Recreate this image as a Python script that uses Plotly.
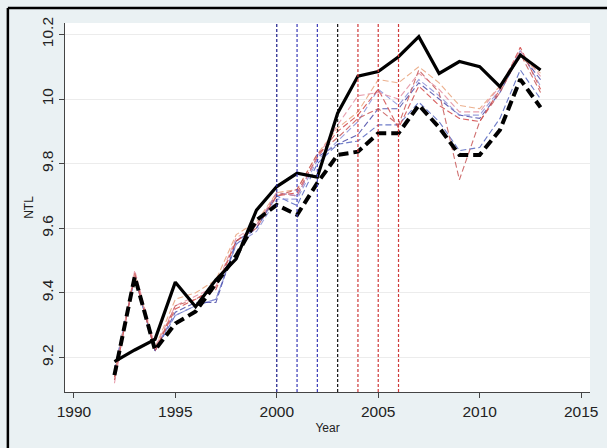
import plotly.graph_objects as go

# Years covered by the night-time-lights series
years = list(range(1992, 2014))

# Treated unit (solid black) and its synthetic counterpart (thick dashed black)
ntl_actual = [9.187, 9.223, 9.256, 9.433, 9.357, 9.440, 9.505, 9.656, 9.729, 9.770, 9.758,
              9.956, 10.071, 10.085, 10.131, 10.193, 10.079, 10.116, 10.100, 10.038, 10.136, 10.090]
ntl_synth = [9.145, 9.450, 9.223, 9.305, 9.342, 9.430, 9.515, 9.625, 9.672, 9.641, 9.740,
             9.827, 9.837, 9.894, 9.894, 9.981, 9.912, 9.827, 9.827, 9.904, 10.061, 9.974]

# Alternative synthetic series (thin dashed)
alt_1 = [9.16, 9.45, 9.22, 9.33, 9.36, 9.38, 9.55, 9.60, 9.70, 9.67, 9.80,
         9.86, 9.87, 9.92, 9.92, 9.99, 9.93, 9.84, 9.85, 9.94, 10.09, 10.00]
alt_2 = [9.15, 9.45, 9.22, 9.34, 9.37, 9.37, 9.56, 9.60, 9.71, 9.70, 9.82,
         9.86, 9.89, 9.97, 9.97, 10.05, 10.00, 9.95, 9.94, 10.02, 10.14, 10.06]
alt_3 = [9.16, 9.45, 9.23, 9.33, 9.36, 9.38, 9.55, 9.59, 9.69, 9.69, 9.81,
         9.87, 9.93, 10.03, 9.98, 10.06, 10.01, 9.95, 9.95, 10.03, 10.15, 10.04]
alt_4 = [9.14, 9.45, 9.22, 9.35, 9.38, 9.41, 9.56, 9.61, 9.70, 9.71, 9.82,
         9.90, 9.95, 10.03, 9.91, 10.04, 9.98, 9.94, 9.93, 10.03, 10.16, 10.03]
alt_5 = [9.15, 9.46, 9.23, 9.38, 9.40, 9.44, 9.58, 9.62, 9.71, 9.72, 9.83,
         9.91, 9.96, 10.06, 10.05, 10.10, 10.05, 9.98, 9.97, 10.04, 10.13, 10.08]
alt_6 = [9.12, 9.47, 9.23, 9.36, 9.39, 9.42, 9.57, 9.61, 9.71, 9.70, 9.82,
         9.92, 10.01, 10.02, 10.00, 10.08, 10.03, 9.96, 9.96, 10.04, 10.15, 10.07]
alt_7 = [9.13, 9.46, 9.22, 9.36, 9.38, 9.42, 9.56, 9.60, 9.70, 9.72, 9.83,
         9.88, 9.94, 9.97, 9.92, 10.09, 10.02, 9.75, 9.93, 10.02, 10.14, 10.02]

alt_series = [alt_1, alt_2, alt_3, alt_4, alt_5, alt_6, alt_7]
alt_colors = ["#5566c0", "#4a4aa8", "#8a90d8", "#d24848", "#e9a27a", "#e48ea0", "#c85858"]

# Reference years marked with vertical lines
event_years = [2000, 2001, 2002, 2003, 2004, 2005, 2006]
event_colors = ["#1c1c8a", "#3a3ab8", "#3a3ab8", "#111111", "#d03a3a", "#d03a3a", "#d03a3a"]

y_ticks = [9.2, 9.4, 9.6, 9.8, 10, 10.2]
y_tick_text = ["9.2", "9.4", "9.6", "9.8", "10", "10.2"]
x_ticks = [1990, 1995, 2000, 2005, 2010, 2015]

fig = go.Figure()

for series, col in zip(alt_series, alt_colors):
    fig.add_trace(go.Scatter(x=years, y=series, mode="lines",
                             line=dict(color=col, width=1.1, dash="6px,3px"),
                             opacity=0.85, showlegend=False))

fig.add_trace(go.Scatter(x=years, y=ntl_synth, mode="lines",
                         line=dict(color="black", width=4, dash="10px,5px"),
                         showlegend=False))
fig.add_trace(go.Scatter(x=years, y=ntl_actual, mode="lines",
                         line=dict(color="black", width=3.2),
                         showlegend=False))

for yr, col in zip(event_years, event_colors):
    fig.add_shape(type="line", xref="x", yref="paper", x0=yr, x1=yr, y0=0, y1=1,
                  line=dict(color=col, width=1.2, dash="3px,2px"), layer="above")

# Outer graph frame
fig.add_shape(type="line", xref="paper", yref="paper", x0=-0.1088, x1=1.2,
              y0=1.0407, y1=1.0407, line=dict(color="black", width=2.5))
fig.add_shape(type="line", xref="paper", yref="paper", x0=-0.1088, x1=-0.1088,
              y0=-0.3, y1=1.0407, line=dict(color="black", width=2.5))

font_family = "Liberation Sans, Arial, sans-serif"

fig.update_layout(
    width=607, height=448,
    margin=dict(l=65, r=9, t=23, b=56),
    paper_bgcolor="#eaf1f3",
    plot_bgcolor="white",
    showlegend=False,
    hovermode=False,
    font=dict(family=font_family, color="#222222"),
    xaxis=dict(range=[1989.563, 2015.437], tickvals=x_ticks,
               showgrid=False, zeroline=False,
               showline=True, linecolor="#444444", linewidth=1.2,
               ticks="outside", ticklen=5, tickcolor="#444444",
               tickfont=dict(size=15.5, color="#222222"),
               title=dict(text="Year", font=dict(size=12, color="#222222"), standoff=4)),
    yaxis=dict(range=[9.0929, 10.2353], tickvals=y_ticks, ticktext=y_tick_text,
               tickangle=-90,
               showgrid=True, gridcolor="#ececec", gridwidth=1, zeroline=False,
               showline=True, linecolor="#444444", linewidth=1.2,
               ticks="outside", ticklen=5, tickcolor="#444444",
               tickfont=dict(size=15.5, color="#222222"),
               title=dict(text="NTL", font=dict(size=12, color="#222222"), standoff=2)),
)

fig.write_html("out.html")
